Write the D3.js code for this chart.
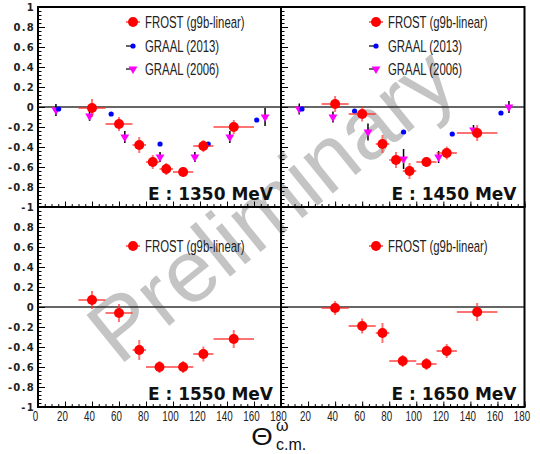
<!DOCTYPE html>
<html>
<head>
<meta charset="utf-8">
<script src="https://cdn.jsdelivr.net/npm/d3@7"></script>
<style>
  body { margin: 0; background: #fff; }
  svg { display: block; }
</style>
</head>
<body>
<div id="container"></div>
<script>
/**
 * CONSTANTS AND GLOBALS
 * */
const width = 540, height = 454;
const colEdges = [38, 281, 524.5];   // left, middle, right of the 2x2 grid
const rowEdges = [7, 207, 407];      // top, middle, bottom

/**
 * DATA
 * */
const energies = [1350, 1450, 1550, 1650];
const legendLabels = ["FROST (g9b-linear)", "GRAAL (2013)", "GRAAL (2006)"];

// FROST: [theta, asymmetry, theta half-bin, asymmetry error]
const frost1350 = [[40,-0.01,10,0.09],[60,-0.17,10,0.07],[75,-0.38,5,0.08],[85,-0.55,5,0.07],
                   [95,-0.62,5,0.06],[107.5,-0.65,7.5,0.05],[122.5,-0.39,7.5,0.06],[145,-0.20,15,0.07]];
const frost1450 = [[40,0.03,10,0.08],[60,-0.07,10,0.075],[75,-0.37,5,0.09],[85,-0.53,5,0.08],
                   [95,-0.64,5,0.08],[107.5,-0.55,7.5,0.05],[122.5,-0.46,7.5,0.065],[145,-0.26,15,0.08]];
const frost1550 = [[40,0.07,10,0.09],[60,-0.06,10,0.09],[75,-0.43,5,0.10],[90,-0.60,10,0.06],
                   [107.5,-0.60,7.5,0.06],[122.5,-0.47,7.5,0.075],[145,-0.32,15,0.09]];
const frost1650 = [[40,-0.01,10,0.07],[60,-0.19,10,0.075],[75,-0.26,5,0.10],[90,-0.54,10,0.06],
                   [107.5,-0.57,7.5,0.06],[122.5,-0.44,7.5,0.07],[145,-0.05,15,0.09]];

// GRAAL (2013): [theta, asymmetry, error]
const graal13_1350 = [[15.3,-0.02,0.01],[54.2,-0.07,0.01],[90.4,-0.37,0.01],[126.1,-0.37,0.01],[162,-0.13,0.01]];
const graal13_1450 = [[15.5,-0.02,0.01],[54.4,-0.04,0.01],[90.6,-0.25,0.01],[126.6,-0.27,0.01],[162.6,-0.06,0.01]];

// GRAAL (2006): [theta, asymmetry, error]
const graal06_1350 = [[13.3,-0.03,0.06],[38.2,-0.09,0.05],[64.3,-0.30,0.06],[90.4,-0.50,0.05],
                      [116.2,-0.50,0.05],[142.1,-0.30,0.06],[168.2,-0.10,0.09]];
const graal06_1450 = [[13.5,-0.02,0.055],[38.4,-0.10,0.055],[64.3,-0.25,0.085],[90.6,-0.52,0.10],
                      [116.5,-0.50,0.06],[142.3,-0.23,0.05],[168.5,0.0,0.06]];

const panels = [
  {E: energies[0], col: 0, row: 0, frost: frost1350, g13: graal13_1350, g06: graal06_1350},
  {E: energies[1], col: 1, row: 0, frost: frost1450, g13: graal13_1450, g06: graal06_1450},
  {E: energies[2], col: 0, row: 1, frost: frost1550, g13: [], g06: []},
  {E: energies[3], col: 1, row: 1, frost: frost1650, g13: [], g06: []}
];

const frostRed = "#ff0000", frostErr = "rgba(255,40,40,0.65)";
const graalBlue = "#0000ff", graalMagenta = "#ff00ff";
const sans = "'Liberation Sans', Arial, sans-serif";

/**
 * INIT
 * */
const svg = d3.select("#container")
  .append("svg")
  .attr("width", width)
  .attr("height", height)
  .style("font-family", sans);

// watermark goes under everything
svg.append("text")
  .attr("transform", "translate(290,228) rotate(-39)")
  .attr("text-anchor", "middle")
  .attr("font-size", 88)
  .attr("fill", "#c4c4c4")
  .text("Preliminary");

panels.forEach(drawPanel);

// shared x title
const title = svg.append("g").attr("fill", "#111");
title.append("text").attr("transform", "translate(262,445) scale(1.2,1)")
  .attr("text-anchor", "middle").attr("font-size", 23).text("Θ");
title.append("text").attr("x", 276).attr("y", 431).attr("font-size", 16).text("ω");
title.append("text").attr("x", 276).attr("y", 450).attr("font-size", 16).text("c.m.");

/**
 * DRAW ONE PANEL
 * */
function drawPanel(p) {
  const x0 = colEdges[p.col], x1 = colEdges[p.col + 1];
  const y0 = rowEdges[p.row], y1 = rowEdges[p.row + 1];

  const x = d3.scaleLinear().domain([0, 180]).range([x0, x1]);
  const y = d3.scaleLinear().domain([-1, 1]).range([y1, y0]);

  const g = svg.append("g");

  // zero line
  g.append("line")
    .attr("x1", x0).attr("x2", x1)
    .attr("y1", y(0)).attr("y2", y(0))
    .attr("stroke", "#333").attr("stroke-width", 1.5);

  // y axis: minor + major ticks pointing inward
  const yMinor = d3.range(0, 51).map(i => -1 + i * 0.04);
  g.append("g")
    .attr("transform", `translate(${x0},0)`)
    .call(d3.axisLeft(y).tickValues(yMinor).tickSize(-3.5).tickFormat(""))
    .call(s => s.select(".domain").remove());

  // the top "1" of the lower row sits under the "-1" of the upper row
  const yFmt = d => (p.row === 1 && d > 0.99) ? "" : String(+d.toFixed(1));
  const yAxis = g.append("g")
    .attr("transform", `translate(${x0},0)`)
    .call(d3.axisLeft(y).ticks(10).tickSize(-7).tickPadding(3)
      .tickFormat(p.col === 0 ? yFmt : ""))
    .call(s => s.select(".domain").remove());
  yAxis.selectAll("text")
    .attr("font-family", "'DejaVu Sans', sans-serif")
    .attr("font-size", 10)
    .attr("letter-spacing", 1.3)
    .attr("font-weight", "bold")
    .attr("fill", "#222");

  // x axis on the bottom, ticks pointing up
  const xMinor = d3.range(0, 181, 5);
  g.append("g")
    .attr("transform", `translate(0,${y1})`)
    .call(d3.axisBottom(x).tickValues(xMinor).tickSize(-3).tickFormat(""))
    .call(s => s.select(".domain").remove());

  const xVals = p.col === 1 ? d3.range(20, 181, 20) : d3.range(0, 181, 20);
  const xAxis = g.append("g")
    .attr("transform", `translate(0,${y1})`)
    .call(d3.axisBottom(x).tickValues(xVals).tickSize(-5.5).tickPadding(3)
      .tickFormat(p.row === 1 ? d => d : ""))
    .call(s => s.select(".domain").remove());
  xAxis.selectAll("text")
    .attr("font-family", sans)
    .attr("font-size", 14)
    .attr("fill", "#222")
    .attr("y", 0).attr("dy", 0)
    .attr("transform", "translate(-3,14) scale(0.7,1)");

  g.selectAll(".tick line").attr("stroke", "#000");

  // frame
  g.append("rect")
    .attr("x", x0).attr("y", y0)
    .attr("width", x1 - x0).attr("height", y1 - y0)
    .attr("fill", "none").attr("stroke", "#000").attr("stroke-width", 2);

  // GRAAL (2006) points
  const g06 = g.append("g");
  g06.selectAll("line")
    .data(p.g06).join("line")
    .attr("x1", d => x(d[0])).attr("x2", d => x(d[0]))
    .attr("y1", d => y(d[1] + d[2])).attr("y2", d => y(d[1] - d[2]))
    .attr("stroke", "#000").attr("stroke-width", 1.5);
  g06.selectAll("path")
    .data(p.g06).join("path")
    .attr("transform", d => `translate(${x(d[0])},${y(d[1])}) rotate(180)`)
    .attr("d", d3.symbol(d3.symbolTriangle, 34))
    .attr("fill", graalMagenta);

  // GRAAL (2013) points
  const g13 = g.append("g");
  g13.selectAll("line")
    .data(p.g13).join("line")
    .attr("x1", d => x(d[0])).attr("x2", d => x(d[0]))
    .attr("y1", d => y(d[1] + d[2])).attr("y2", d => y(d[1] - d[2]))
    .attr("stroke", "#000").attr("stroke-width", 1);
  g13.selectAll("circle")
    .data(p.g13).join("circle")
    .attr("cx", d => x(d[0])).attr("cy", d => y(d[1]))
    .attr("r", 2.6).attr("fill", graalBlue);

  // FROST points
  const fr = g.append("g");
  fr.selectAll("line.h")
    .data(p.frost).join("line").attr("class", "h")
    .attr("x1", d => x(d[0] - d[2])).attr("x2", d => x(d[0] + d[2]))
    .attr("y1", d => y(d[1])).attr("y2", d => y(d[1]))
    .attr("stroke", frostErr).attr("stroke-width", 2);
  fr.selectAll("line.v")
    .data(p.frost).join("line").attr("class", "v")
    .attr("x1", d => x(d[0])).attr("x2", d => x(d[0]))
    .attr("y1", d => y(d[1] + d[3])).attr("y2", d => y(d[1] - d[3]))
    .attr("stroke", frostErr).attr("stroke-width", 2);
  fr.selectAll("circle")
    .data(p.frost).join("circle")
    .attr("cx", d => x(d[0])).attr("cy", d => y(d[1]))
    .attr("r", 5).attr("fill", frostRed);

  // legend
  const lx = x0 + 95, tx = x0 + 107;
  const leg = g.append("g").attr("font-size", 16.5).attr("fill", "#222");
  const legText = (t, ry) => leg.append("text")
    .attr("transform", `translate(${tx},${ry}) scale(0.69,1)`)
    .attr("dy", "0.36em").text(t);
  if (p.row === 0) {
    const rows = [y0 + 15, y0 + 39, y0 + 62];
    leg.append("line").attr("x1", lx - 7).attr("x2", lx + 7).attr("y1", rows[0]).attr("y2", rows[0])
      .attr("stroke", frostErr).attr("stroke-width", 2);
    leg.append("circle").attr("cx", lx).attr("cy", rows[0]).attr("r", 5).attr("fill", frostRed);
    leg.append("line").attr("x1", lx - 7).attr("x2", lx).attr("y1", rows[1]).attr("y2", rows[1])
      .attr("stroke", "#333").attr("stroke-width", 1.5);
    leg.append("circle").attr("cx", lx).attr("cy", rows[1]).attr("r", 2.6).attr("fill", graalBlue);
    leg.append("line").attr("x1", lx - 7).attr("x2", lx).attr("y1", rows[2]).attr("y2", rows[2])
      .attr("stroke", "#333").attr("stroke-width", 1.5);
    leg.append("path")
      .attr("transform", `translate(${lx},${rows[2]}) rotate(180)`)
      .attr("d", d3.symbol(d3.symbolTriangle, 34)).attr("fill", graalMagenta);
    legendLabels.forEach((t, i) => legText(t, rows[i]));
  } else {
    const ry = y0 + 39;
    leg.append("line").attr("x1", lx - 7).attr("x2", lx + 7).attr("y1", ry).attr("y2", ry)
      .attr("stroke", frostErr).attr("stroke-width", 2);
    leg.append("circle").attr("cx", lx).attr("cy", ry).attr("r", 5).attr("fill", frostRed);
    legText(legendLabels[0], ry);
  }

  // energy label
  g.append("text")
    .attr("x", x1 - 8).attr("y", y1 - 7)
    .attr("text-anchor", "end")
    .attr("font-family", "'DejaVu Sans', sans-serif")
    .attr("font-weight", "bold")
    .attr("font-size", 17)
    .attr("fill", "#111")
    .text(`E : ${p.E} MeV`);
}
</script>
</body>
</html>
